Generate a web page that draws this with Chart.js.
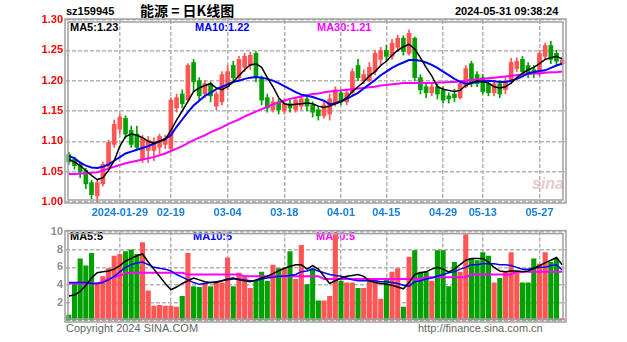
<!DOCTYPE html>
<html>
<head>
<meta charset="utf-8">
<script src="https://cdn.jsdelivr.net/npm/chart.js@4"></script>
<style>
  body { margin: 0; background: #fff; width: 627px; height: 342px; overflow: hidden; position: relative; font-family: "Liberation Sans", Arial, sans-serif; }
  canvas { position: absolute; left: 0; }
  .t { position: absolute; white-space: nowrap; font-weight: bold; font-size: 11px; line-height: 12px; }
</style>
</head>
<body>
<div class="t" style="left:66px;top:5px;">sz159945</div>
<div class="t" style="left:140px;top:2px;font-size:14px;line-height:16px;font-family:'Noto Sans CJK SC',sans-serif;">能源 = 日K线图</div>
<div class="t" style="left:455px;top:5px;">2024-05-31 09:38:24</div>
<div class="t" style="left:70px;top:21px;">MA5:1.23</div>
<div class="t" style="left:195px;top:21px;color:#0000ff;">MA10:1.22</div>
<div class="t" style="left:317px;top:21px;color:#ff00ff;">MA30:1.21</div>
<div class="t" style="left:70px;top:230px;">MA5:5</div>
<div class="t" style="left:193px;top:230px;color:#0000ff;">MA10:5</div>
<div class="t" style="left:316px;top:230px;color:#ff00ff;">MA30:5</div>
<div class="t" style="left:66px;top:322px;color:#666;font-weight:normal;">Copyright 2024 SINA.COM</div>
<div class="t" style="left:418px;top:322px;color:#666;font-weight:normal;">http://finance.sina.com.cn</div>
<div class="t" style="left:532px;top:178px;color:#e9c9c9;font-size:16px;font-style:italic;">sina</div>
<canvas id="kline" width="627" height="222" style="top:0;"></canvas>
<canvas id="vol" width="627" height="120" style="top:222px;"></canvas>
<script>
// trading days shown (2024)
const dates = [
  '01-16','01-17','01-18','01-19','01-22','01-23','01-24','01-25','01-26',
  '01-29','01-30','01-31','02-01','02-02',
  '02-05','02-06','02-07','02-08',
  '02-19','02-20','02-21','02-22','02-23',
  '02-26','02-27','02-28','02-29','03-01',
  '03-04','03-05','03-06','03-07','03-08',
  '03-11','03-12','03-13','03-14','03-15',
  '03-18','03-19','03-20','03-21','03-22',
  '03-25','03-26','03-27','03-28','03-29',
  '04-01','04-02','04-03',
  '04-08','04-09','04-10','04-11','04-12',
  '04-15','04-16','04-17','04-18','04-19',
  '04-22','04-23','04-24','04-25','04-26',
  '04-29','04-30',
  '05-06','05-07','05-08','05-09','05-10',
  '05-13','05-14','05-15','05-16','05-17',
  '05-20','05-21','05-22','05-23','05-24',
  '05-27','05-28','05-29','05-30','05-31'
];
const tickDates  = ['01-29', '02-19', '03-04', '03-18', '04-01', '04-15', '04-29', '05-13', '05-27'];
const tickLabels = ['2024-01-29', '02-19', '03-04', '03-18', '04-01', '04-15', '04-29', '05-13', '05-27'];

const open = [
  1.078,1.070,1.062,1.052,1.032,1.010,1.030,1.058,1.095,1.120,
  1.138,1.118,1.112,1.070,1.085,1.085,1.090,1.095,1.088,1.155,
  1.178,1.168,1.230,1.200,1.178,1.195,1.158,1.165,1.190,1.225,
  1.205,1.222,1.225,1.245,1.205,1.172,1.152,1.165,1.150,1.162,
  1.152,1.158,1.170,1.160,1.152,1.142,1.145,1.162,1.180,1.165,
  1.180,1.225,1.200,1.200,1.215,1.235,1.250,1.240,1.255,1.270,
  1.245,1.270,1.205,1.190,1.180,1.190,1.185,1.175,1.178,1.172,
  1.190,1.228,1.210,1.205,1.195,1.180,1.195,1.185,1.200,1.220,
  1.235,1.225,1.218,1.212,1.240,1.258,1.245,1.228
];
const high = [
  1.082,1.074,1.066,1.055,1.036,1.036,1.066,1.102,1.135,1.145,
  1.142,1.125,1.125,1.110,1.108,1.106,1.112,1.110,1.172,1.178,
  1.185,1.228,1.235,1.205,1.200,1.198,1.182,1.215,1.225,1.232,
  1.240,1.245,1.247,1.248,1.208,1.178,1.172,1.170,1.170,1.168,
  1.172,1.175,1.175,1.165,1.158,1.165,1.178,1.190,1.185,1.185,
  1.220,1.235,1.218,1.230,1.250,1.255,1.258,1.268,1.275,1.274,
  1.284,1.272,1.210,1.195,1.195,1.195,1.190,1.180,1.186,1.200,
  1.225,1.232,1.215,1.210,1.200,1.200,1.200,1.205,1.237,1.238,
  1.240,1.230,1.225,1.250,1.262,1.265,1.250,1.238
];
const low = [
  1.062,1.054,1.040,1.022,1.005,1.000,1.026,1.055,1.090,1.112,
  1.105,1.090,1.086,1.065,1.065,1.068,1.080,1.088,1.085,1.148,
  1.155,1.165,1.182,1.168,1.172,1.165,1.152,1.160,1.185,1.198,
  1.200,1.215,1.218,1.198,1.160,1.148,1.148,1.145,1.145,1.148,
  1.148,1.152,1.150,1.140,1.135,1.138,1.135,1.158,1.160,1.160,
  1.175,1.200,1.195,1.198,1.210,1.225,1.232,1.235,1.248,1.242,
  1.242,1.200,1.178,1.172,1.175,1.170,1.163,1.163,1.165,1.170,
  1.188,1.190,1.190,1.178,1.175,1.175,1.172,1.178,1.195,1.215,
  1.210,1.205,1.205,1.208,1.235,1.228,1.225,1.226
];
const close = [
  1.066,1.060,1.050,1.030,1.012,1.032,1.062,1.098,1.128,1.140,
  1.112,1.095,1.090,1.105,1.102,1.100,1.108,1.105,1.168,1.172,
  1.162,1.225,1.198,1.175,1.195,1.175,1.178,1.210,1.215,1.205,
  1.235,1.240,1.242,1.205,1.168,1.155,1.165,1.152,1.162,1.155,
  1.168,1.170,1.158,1.148,1.142,1.160,1.170,1.185,1.165,1.180,
  1.215,1.205,1.210,1.222,1.245,1.250,1.240,1.262,1.270,1.248,
  1.278,1.205,1.185,1.180,1.190,1.178,1.168,1.170,1.172,1.195,
  1.220,1.195,1.195,1.182,1.180,1.195,1.178,1.200,1.230,1.232,
  1.215,1.212,1.212,1.245,1.258,1.235,1.232,1.234
];
// price moving averages as drawn
const ma5 = [
  1.070,1.066,1.060,1.052,1.044,1.037,1.040,1.052,1.068,1.092,
  1.108,1.112,1.110,1.106,1.100,1.097,1.100,1.103,1.118,1.135,
  1.150,1.166,1.182,1.188,1.192,1.195,1.188,1.185,1.190,1.198,
  1.208,1.218,1.226,1.228,1.222,1.205,1.190,1.172,1.162,1.160,
  1.161,1.162,1.163,1.162,1.158,1.156,1.158,1.162,1.165,1.172,
  1.182,1.190,1.198,1.208,1.215,1.225,1.232,1.242,1.250,1.256,
  1.260,1.252,1.238,1.222,1.208,1.190,1.186,1.184,1.182,1.184,
  1.192,1.196,1.200,1.198,1.196,1.190,1.188,1.190,1.196,1.205,
  1.212,1.218,1.222,1.228,1.235,1.238,1.240,1.236
];
const ma10 = [
  1.076,1.072,1.065,1.060,1.057,1.056,1.058,1.062,1.068,1.074,
  1.080,1.083,1.086,1.089,1.092,1.096,1.100,1.104,1.110,1.124,
  1.136,1.148,1.159,1.167,1.175,1.180,1.186,1.190,1.194,1.198,
  1.200,1.203,1.205,1.206,1.205,1.203,1.200,1.196,1.191,1.186,
  1.181,1.177,1.175,1.173,1.170,1.167,1.161,1.163,1.166,1.170,
  1.175,1.180,1.187,1.194,1.201,1.209,1.215,1.221,1.226,1.230,
  1.234,1.234,1.233,1.230,1.226,1.221,1.215,1.209,1.203,1.198,
  1.195,1.196,1.198,1.199,1.200,1.199,1.198,1.198,1.200,1.203,
  1.207,1.212,1.214,1.216,1.217,1.221,1.225,1.228
];
const ma30 = [
  1.046,1.046,1.047,1.047,1.048,1.049,1.052,1.055,1.058,1.061,
  1.064,1.066,1.068,1.070,1.072,1.074,1.077,1.080,1.084,1.088,
  1.092,1.097,1.102,1.106,1.110,1.115,1.119,1.123,1.128,1.132,
  1.136,1.141,1.145,1.149,1.153,1.157,1.161,1.164,1.167,1.170,
  1.172,1.174,1.176,1.178,1.179,1.181,1.182,1.183,1.184,1.185,
  1.186,1.187,1.188,1.189,1.190,1.192,1.193,1.194,1.195,1.196,
  1.196,1.196,1.196,1.196,1.196,1.197,1.197,1.198,1.198,1.199,
  1.200,1.201,1.202,1.203,1.204,1.205,1.206,1.207,1.208,1.209,
  1.210,1.211,1.212,1.212,1.213,1.214,1.214,1.215
];

const volume = [
  0.7,4.2,7.0,6.2,7.6,4.3,5.0,5.9,7.3,7.5,
  7.8,8.0,7.5,8.8,3.4,1.7,1.8,1.7,1.7,1.6,
  2.8,7.6,3.9,3.8,4.3,3.9,4.3,4.3,7.1,3.9,
  5.4,5.0,3.7,4.5,5.5,4.5,6.3,5.9,5.9,7.8,
  4.7,8.5,4.1,5.9,2.3,2.3,2.8,9.7,4.5,4.3,
  4.3,3.7,3.7,4.8,4.8,2.5,4.8,5.5,5.9,1.6,
  7.2,7.9,5.5,5.5,4.5,7.9,7.9,3.9,6.6,5.5,
  9.7,7.0,6.8,7.7,7.3,4.3,4.8,5.5,7.7,5.5,
  4.3,4.3,7.0,6.4,7.7,6.6,7.0,0.3
];
const volMa5 = [
  2.8,2.9,3.3,4.0,4.8,5.4,5.5,5.6,5.8,6.2,
  6.7,7.0,7.3,7.5,6.6,5.8,5.0,4.2,3.5,3.8,
  4.2,4.5,4.8,4.6,4.4,4.3,4.3,4.5,4.7,4.8,
  4.6,4.5,4.4,4.6,4.8,5.0,5.3,5.6,5.9,6.1,
  6.3,6.3,5.8,6.2,5.8,5.0,4.2,4.5,4.8,5.0,
  5.1,5.2,5.0,4.5,4.3,4.2,4.1,4.0,3.8,3.6,
  4.3,5.2,5.4,5.5,5.8,6.0,5.8,5.5,5.8,6.3,
  6.8,7.0,7.0,7.0,6.6,6.0,5.6,5.5,5.6,5.6,
  5.5,5.6,5.9,6.2,6.5,6.8,7.1,6.3
];
const volMa10 = [
  4.3,4.3,4.3,4.3,4.2,4.2,4.3,4.6,5.0,5.5,
  6.0,6.3,6.5,6.6,6.3,6.0,5.9,5.8,5.6,5.2,
  4.9,4.6,4.3,4.1,4.2,4.3,4.4,4.5,4.6,4.7,
  4.7,4.6,4.5,4.5,4.7,4.8,4.9,5.0,5.0,5.1,
  5.2,5.5,5.6,5.8,5.6,5.4,5.2,5.1,5.0,4.8,
  4.6,4.5,4.5,4.5,4.5,4.4,4.4,4.3,4.2,4.0,
  3.9,4.4,4.5,4.7,4.8,5.0,5.2,5.4,5.5,5.8,
  6.0,6.3,6.3,6.4,6.4,6.4,6.3,6.3,6.2,6.0,
  5.8,5.8,5.9,6.0,6.0,6.2,6.3,5.7
];
const volMa30 = [
  4.2,4.2,4.2,4.2,4.2,4.2,4.4,4.7,4.9,5.1,
  5.3,5.4,5.4,5.4,5.4,5.4,5.4,5.4,5.4,5.4,
  5.4,5.2,5.2,5.2,5.2,5.2,5.2,5.2,5.2,5.2,
  5.2,5.0,5.0,5.0,5.0,5.0,5.0,5.0,5.0,5.0,
  5.0,5.0,5.0,5.0,5.0,4.7,4.7,4.7,4.7,4.7,
  4.7,4.7,4.7,4.7,4.7,4.7,4.7,4.7,4.7,4.7,
  4.7,4.7,4.7,4.9,4.9,4.9,4.9,4.9,4.9,4.9,
  4.9,5.2,5.2,5.2,5.2,5.2,5.2,5.2,5.2,5.5,
  5.5,5.5,5.5,5.5,5.5,5.5,5.5,5.5
];

const RED = '#ff5555', GREEN = '#00a000';
const GRID = '#b4b4b4';
const candleColor = close.map((c, i) => (c >= open[i] ? RED : GREEN));
const labelFont = { family: 'Liberation Sans', size: 11, weight: 'bold' };

// gray double frame around each plot
const framePlugin = {
  id: 'frame',
  afterDraw(chart) {
    const a = chart.chartArea, ctx = chart.ctx;
    ctx.save();
    ctx.strokeStyle = '#a0a0a0';
    ctx.lineWidth = 1.5;
    ctx.strokeRect(a.left - 1, a.top - 1, a.right - a.left + 2, a.bottom - a.top + 2);
    ctx.strokeRect(a.left + 2, a.top + 2, a.right - a.left - 4, a.bottom - a.top - 4);
    ctx.restore();
  }
};

function xAxis(showLabels) {
  return {
    offset: true,
    grid: {
      offset: false,
      drawTicks: false,
      lineWidth: 1.5,
      color: c => (tickDates.includes(dates[c.index]) ? GRID : 'transparent')
    },
    border: { display: false, dash: [4, 2] },
    ticks: {
      display: showLabels,
      autoSkip: false,
      maxRotation: 0,
      padding: 4,
      color: '#1a7fd6',
      font: labelFont,
      callback: (v, i) => {
        const k = tickDates.indexOf(dates[i]);
        return k >= 0 ? tickLabels[k] : '';
      }
    },
    afterFit: s => { s.height = showLabels ? 20 : 21; }
  };
}

new Chart(document.getElementById('kline'), {
  data: {
    labels: dates,
    datasets: [
      { type: 'line', data: ma5, borderColor: '#000', borderWidth: 1.5, pointRadius: 0, order: 0 },
      { type: 'line', data: ma10, borderColor: '#0000ff', borderWidth: 2, pointRadius: 0, order: 0 },
      { type: 'line', data: ma30, borderColor: '#ff00ff', borderWidth: 2, pointRadius: 0, order: 0 },
      { type: 'bar', data: open.map((o, i) => [o, close[i]]), backgroundColor: candleColor,
        barThickness: 4, minBarLength: 1, grouped: false, order: 1 },
      { type: 'bar', data: low.map((l, i) => [l, high[i]]), backgroundColor: candleColor,
        barThickness: 1, grouped: false, order: 2 }
    ]
  },
  options: {
    responsive: false, animation: false, devicePixelRatio: 1,
    layout: { padding: { left: 0, right: 62, top: 20, bottom: 0 } },
    plugins: { legend: { display: false }, tooltip: { enabled: false } },
    scales: {
      x: xAxis(true),
      y: {
        min: 1.0, max: 1.3,
        grid: { color: GRID, lineWidth: 1.5, drawTicks: false },
        border: { display: false, dash: [4, 2] },
        ticks: { stepSize: 0.05, padding: 3, color: '#ff0000', font: labelFont, callback: v => v.toFixed(2) },
        afterFit: s => { s.width = 66; }
      }
    }
  },
  plugins: [framePlugin]
});

new Chart(document.getElementById('vol'), {
  data: {
    labels: dates,
    datasets: [
      { type: 'line', data: volMa5, borderColor: '#000', borderWidth: 1.5, pointRadius: 0, order: 0 },
      { type: 'line', data: volMa10, borderColor: '#0000ff', borderWidth: 1.5, pointRadius: 0, order: 0 },
      { type: 'line', data: volMa30, borderColor: '#ff00ff', borderWidth: 2, pointRadius: 0, order: 0 },
      { type: 'bar', data: volume, backgroundColor: candleColor, barPercentage: 0.9, categoryPercentage: 1, order: 1 }
    ]
  },
  options: {
    responsive: false, animation: false, devicePixelRatio: 1,
    layout: { padding: { left: 0, right: 62, top: 6, bottom: 0 } },
    plugins: { legend: { display: false }, tooltip: { enabled: false } },
    scales: {
      x: xAxis(false),
      y: {
        min: 0, max: 10,
        grid: { color: GRID, lineWidth: 1.5, drawTicks: false },
        border: { display: false, dash: [4, 2] },
        ticks: { stepSize: 2, padding: 3, color: '#8c8c8c', font: labelFont, callback: v => (v === 0 ? '' : v) },
        afterFit: s => { s.width = 66; }
      }
    }
  },
  plugins: [framePlugin]
});
</script>
</body>
</html>
